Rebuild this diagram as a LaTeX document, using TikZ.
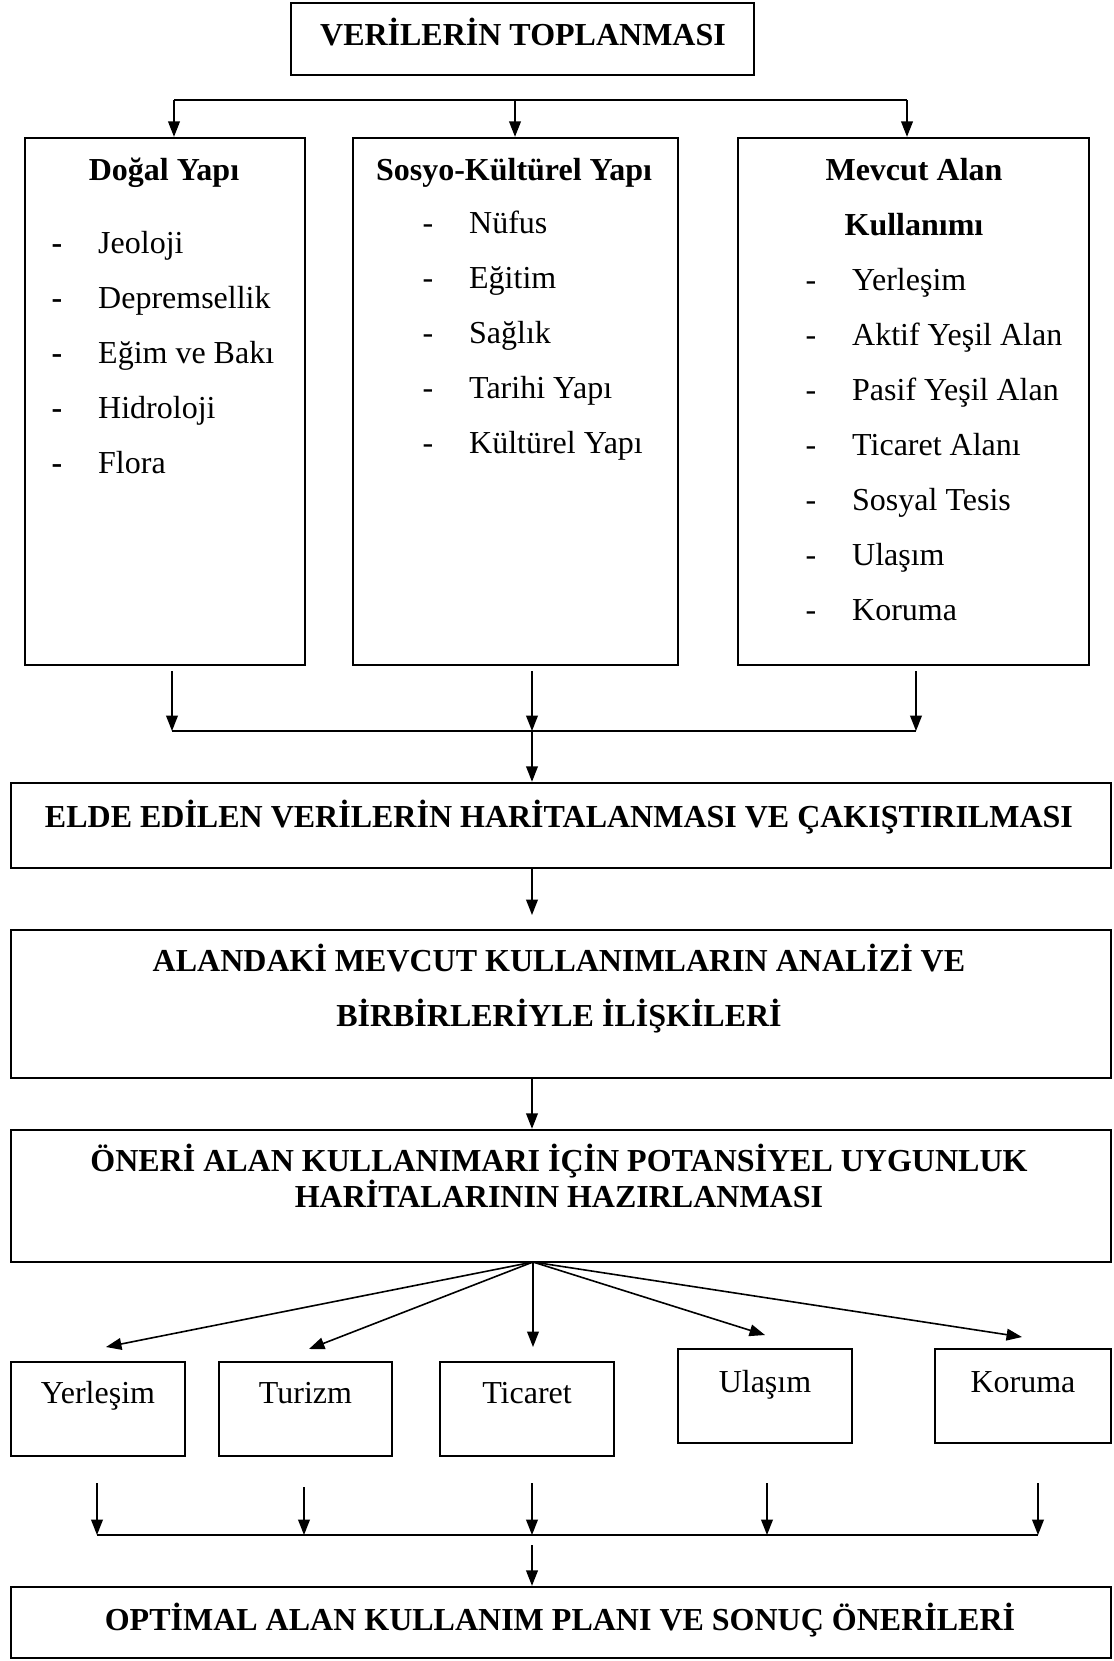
\documentclass[tikz,border=0pt]{standalone}
\usepackage{fontspec}
\setmainfont{Liberation Serif}
\usetikzlibrary{arrows.meta}
\newcommand{\dashitem}[2]{\makebox[17.5pt][l]{#1}#2}

\begin{document}
\begin{tikzpicture}[x=0.375pt, y=-0.375pt,
  every node/.style={font=\fontsize{12}{14}\selectfont},
  box/.style={draw, line width=0.9pt, inner sep=0pt},
  lbl/.style={inner sep=0pt, anchor=base},
  bt/.style={lbl, font=\fontsize{12}{14}\selectfont\bfseries},
  itm/.style={inner sep=0pt, anchor=base west},
  arr/.style={-{Triangle[length=5.8pt, width=4.4pt]}, line width=0.6pt}]
  \useasboundingbox (0,0) rectangle (1113,1661);
  % data collection
  \node[box, minimum width=173.6pt, minimum height=27pt] (top) at (522.5,39) {};
  \node[bt] (topt) at (523,45) {VERİLERİN TOPLANMASI};
  % three data groups
  \node[box, minimum width=105pt, minimum height=197.6pt] (dogal) at (165,401.5) {};
  \node[box, minimum width=121.9pt, minimum height=197.6pt] (sosyo) at (515.5,401.5) {};
  \node[box, minimum width=131.6pt, minimum height=197.6pt] (mevcut) at (913.5,401.5) {};
  \node[bt] (dogalt) at (164,180) {Doğal Yapı};
  \node[bt] (sosyot) at (514,180) {Sosyo-Kültürel Yapı};
  \node[bt] (mevcutt) at (914,180) {Mevcut Alan};
  \node[bt] (mevcutt2) at (914,235) {Kullanımı};
  \node[itm] (dg1) at (51,253) {\dashitem{\textbf{-}}{Jeoloji}};
  \node[itm] (dg2) at (51,308) {\dashitem{\textbf{-}}{Depremsellik}};
  \node[itm] (dg3) at (51,363) {\dashitem{\textbf{-}}{Eğim ve Bakı}};
  \node[itm] (dg4) at (51,418) {\dashitem{\textbf{-}}{Hidroloji}};
  \node[itm] (dg5) at (51,473) {\dashitem{\textbf{-}}{Flora}};
  \node[itm] (ss1) at (422,233) {\dashitem{-}{Nüfus}};
  \node[itm] (ss2) at (422,288) {\dashitem{-}{Eğitim}};
  \node[itm] (ss3) at (422,343) {\dashitem{-}{Sağlık}};
  \node[itm] (ss4) at (422,398) {\dashitem{-}{Tarihi Yapı}};
  \node[itm] (ss5) at (422,453) {\dashitem{-}{Kültürel Yapı}};
  \node[itm] (mv1) at (805,290) {\dashitem{-}{Yerleşim}};
  \node[itm] (mv2) at (805,345) {\dashitem{-}{Aktif Yeşil Alan}};
  \node[itm] (mv3) at (805,400) {\dashitem{-}{Pasif Yeşil Alan}};
  \node[itm] (mv4) at (805,455) {\dashitem{-}{Ticaret Alanı}};
  \node[itm] (mv5) at (805,510) {\dashitem{-}{Sosyal Tesis}};
  \node[itm] (mv6) at (805,565) {\dashitem{-}{Ulaşım}};
  \node[itm] (mv7) at (805,620) {\dashitem{-}{Koruma}};
  % main steps
  \node[box, minimum width=412.5pt, minimum height=31.9pt] (elde) at (561,825.5) {};
  \node[bt] (eldet) at (559,827) {ELDE EDİLEN VERİLERİN HARİTALANMASI VE ÇAKIŞTIRILMASI};
  \node[box, minimum width=412.5pt, minimum height=55.5pt] (alan) at (561,1004) {};
  \node[bt] (alant1) at (559,971) {ALANDAKİ MEVCUT KULLANIMLARIN ANALİZİ VE};
  \node[bt] (alant2) at (559,1026) {BİRBİRLERİYLE İLİŞKİLERİ};
  \node[box, minimum width=412.5pt, minimum height=49.5pt] (oneri) at (561,1196) {};
  \node[bt] (onerit1) at (559,1171) {ÖNERİ ALAN KULLANIMARI İÇİN POTANSİYEL UYGUNLUK};
  \node[bt] (onerit2) at (559,1207) {HARİTALARININ HAZIRLANMASI};
  % land uses
  \node[box, minimum width=65.25pt, minimum height=35.25pt] (yer) at (98,1409) {};
  \node[box, minimum width=65pt, minimum height=35.25pt] (tur) at (305.5,1409) {};
  \node[box, minimum width=65.25pt, minimum height=35.25pt] (tic) at (527,1409) {};
  \node[box, minimum width=65.25pt, minimum height=35.25pt] (ula) at (765,1396) {};
  \node[box, minimum width=66pt, minimum height=35.25pt] (kor) at (1023,1396) {};
  \node[lbl] (yert) at (98,1403) {Yerleşim};
  \node[lbl] (turt) at (305.5,1403) {Turizm};
  \node[lbl] (tict) at (527,1403) {Ticaret};
  \node[lbl] (ulat) at (765,1392) {Ulaşım};
  \node[lbl] (kort) at (1023,1392) {Koruma};
  \node[box, minimum width=412.5pt, minimum height=26.6pt] (opt) at (561,1622.5) {};
  \node[bt] (optt) at (560,1630) {OPTİMAL ALAN KULLANIM PLANI VE SONUÇ ÖNERİLERİ};
  % connectors
  \coordinate (s1) at (174,100);
  \coordinate (s2) at (515,100);
  \coordinate (s3) at (907,100);
  \draw[line width=0.6pt] (s1) -- (s3);
  \draw[arr] (s1) -- (s1 |- dogal.north);
  \draw[arr] (s2) -- (s2 |- sosyo.north);
  \draw[arr] (s3) -- (s3 |- mevcut.north);
  \coordinate (d1) at (172,671);
  \coordinate (d2) at (532,671);
  \coordinate (d3) at (916,671);
  \coordinate (m1) at (172,731);
  \coordinate (m2) at (532,731);
  \coordinate (m3) at (916,731);
  \draw[arr] (d1) -- (m1);
  \draw[arr] (d2) -- (m2);
  \draw[arr] (d3) -- (m3);
  \draw[line width=0.6pt] (m1) -- (m3);
  \draw[arr] (m2) -- (m2 |- elde.north);
  \coordinate (e1) at (532,915);
  \draw[arr] (m2 |- elde.south) -- (e1);
  \draw[arr] (m2 |- alan.south) -- (m2 |- oneri.north);
  \coordinate (f0) at (533,1262);
  \coordinate (f1) at (106,1347);
  \coordinate (f2) at (309,1349);
  \coordinate (f3) at (533,1347);
  \coordinate (f4) at (765,1335);
  \coordinate (f5) at (1022,1337);
  \draw[arr] (f0) -- (f1);
  \draw[arr] (f0) -- (f2);
  \draw[arr] (f0) -- (f3);
  \draw[arr] (f0) -- (f4);
  \draw[arr] (f0) -- (f5);
  \coordinate (g1) at (97,1483);
  \coordinate (g2) at (304,1487);
  \coordinate (g3) at (532,1483);
  \coordinate (g4) at (767,1483);
  \coordinate (g5) at (1038,1483);
  \draw[arr] (g1) -- (g1 |- 0,1535);
  \draw[arr] (g2) -- (g2 |- 0,1535);
  \draw[arr] (g3) -- (g3 |- 0,1535);
  \draw[arr] (g4) -- (g4 |- 0,1535);
  \draw[arr] (g5) -- (g5 |- 0,1535);
  \draw[line width=0.6pt] (g1 |- 0,1535) -- (g5 |- 0,1535);
  \coordinate (k) at (532,1545);
  \draw[arr] (k) -- (k |- opt.north);
\end{tikzpicture}
\end{document}
